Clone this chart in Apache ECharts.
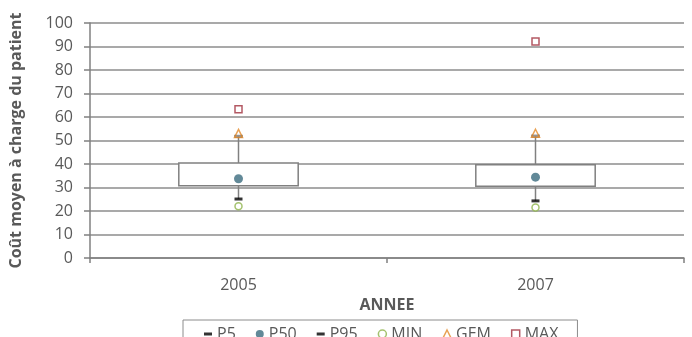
<!DOCTYPE html>
<html>
<head>
<meta charset="utf-8">
<script src="https://cdn.jsdelivr.net/npm/echarts@6/dist/echarts.min.js"></script>
<style>
html,body{margin:0;padding:0;background:#fff;}
#chart{width:692px;height:337px;}
</style>
</head>
<body>
<div id="chart"></div>
<script>
var categories = ['2005', '2007'];
var p5Values  = [25.1, 24.3];
var q1Values  = [30.7, 30.5];
var p50Values = [33.7, 34.4];
var q3Values  = [40.4, 39.7];
var p95Values = [51.8, 51.9];
var minValues = [22.0, 21.5];
var gemValues = [53.0, 53.1];
var maxValues = [63.3, 92.1];
var yTicks = { min: 0, max: 100, interval: 10 };

var FONT = '"Open Sans", sans-serif';
var TXT = '#595959';
var GRIDC = '#8c8c8c';
var AXISC = '#808080';
var DASH = 'path://M0,0H8V3H0Z';

var boxData = categories.map(function (c, i) {
  return [i, p5Values[i], q1Values[i], q3Values[i], p95Values[i]];
});

var chart = echarts.init(document.getElementById('chart'), null, { renderer: 'canvas' });
chart.setOption({
  animation: false,
  backgroundColor: '#fff',
  grid: { left: 87, right: 8, top: 23, bottom: 79 },
  xAxis: {
    type: 'category',
    data: categories,
    name: 'ANNEE',
    nameLocation: 'middle',
    nameGap: 36,
    nameTextStyle: { color: TXT, fontFamily: FONT, fontSize: 16, fontWeight: 'bold' },
    axisLine: { lineStyle: { color: AXISC, width: 1.5 } },
    axisTick: { show: true, length: 5, lineStyle: { color: AXISC, width: 1.5 } },
    axisLabel: { color: TXT, fontFamily: FONT, fontSize: 16, margin: 19 },
    splitLine: { show: false }
  },
  yAxis: {
    type: 'value',
    min: yTicks.min,
    max: yTicks.max,
    interval: yTicks.interval,
    name: 'Coût moyen à charge du patient',
    nameLocation: 'middle',
    nameRotate: 90,
    nameGap: 66,
    nameTextStyle: { color: TXT, fontFamily: FONT, fontSize: 16, fontWeight: 'bold' },
    axisLine: { show: true, lineStyle: { color: AXISC, width: 1.5 } },
    axisTick: { show: true, length: 6, lineStyle: { color: AXISC, width: 1.5 } },
    axisLabel: { color: TXT, fontFamily: FONT, fontSize: 16, margin: 17 },
    splitLine: { show: true, lineStyle: { color: GRIDC, width: 1.5 } }
  },
  legend: {
    left: 183,
    top: 320,
    orient: 'horizontal',
    padding: [6, 19, 30, 21],
    itemGap: 20,
    itemWidth: 8,
    itemHeight: 8,
    borderColor: '#8c8c8c',
    borderWidth: 1,
    textStyle: { color: TXT, fontFamily: FONT, fontSize: 16 },
    data: [
      { name: 'P5', icon: DASH, itemStyle: { color: '#000', borderWidth: 0 } },
      { name: 'P50', icon: 'circle', itemStyle: { color: '#3b6c7e', borderWidth: 0 } },
      { name: 'P95', icon: DASH, itemStyle: { color: '#000', borderWidth: 0 } },
      { name: 'MIN', icon: 'circle', itemStyle: { color: '#fff', borderColor: '#8db34a', borderWidth: 1.5 } },
      { name: 'GEM', icon: 'triangle', itemStyle: { color: '#fff', borderColor: '#e38b2a', borderWidth: 1.5 } },
      { name: 'MAX', icon: 'rect', itemStyle: { color: '#fff', borderColor: '#a0303c', borderWidth: 1.5 } }
    ]
  },
  series: [
    {
      type: 'custom',
      name: 'box',
      z: 2,
      data: boxData,
      renderItem: function (params, api) {
        var x = api.value(0);
        var lo = api.coord([x, api.value(1)]);
        var q1 = api.coord([x, api.value(2)]);
        var q3 = api.coord([x, api.value(3)]);
        var hi = api.coord([x, api.value(4)]);
        var w = api.size([1, 0])[0] * 0.402;
        return {
          type: 'group',
          children: [
            { type: 'line', shape: { x1: lo[0], y1: lo[1], x2: hi[0], y2: hi[1] },
              style: { stroke: AXISC, lineWidth: 1.5 } },
            { type: 'rect', shape: { x: q3[0] - w / 2, y: q3[1], width: w, height: q1[1] - q3[1] },
              style: { fill: '#fff', stroke: AXISC, lineWidth: 1.5 } }
          ]
        };
      }
    },
    { type: 'scatter', name: 'P5', z: 3, data: p5Values, symbol: 'rect', symbolSize: [8, 3],
      itemStyle: { color: '#000' } },
    { type: 'scatter', name: 'P50', z: 3, data: p50Values, symbol: 'circle', symbolSize: 9,
      itemStyle: { color: '#3b6c7e' } },
    { type: 'scatter', name: 'P95', z: 3, data: p95Values, symbol: 'rect', symbolSize: [8, 3],
      itemStyle: { color: '#000' } },
    { type: 'scatter', name: 'MIN', z: 4, data: minValues, symbol: 'circle', symbolSize: 7,
      itemStyle: { color: '#fff', borderColor: '#8db34a', borderWidth: 1.5 } },
    { type: 'scatter', name: 'GEM', z: 4, data: gemValues, symbol: 'triangle', symbolSize: 8,
      itemStyle: { color: 'rgba(255,255,255,0.6)', borderColor: '#e38b2a', borderWidth: 1.5 } },
    { type: 'scatter', name: 'MAX', z: 4, data: maxValues, symbol: 'rect', symbolSize: 7,
      itemStyle: { color: '#fff', borderColor: '#a0303c', borderWidth: 1.5 } }
  ]
});
</script>
</body>
</html>
